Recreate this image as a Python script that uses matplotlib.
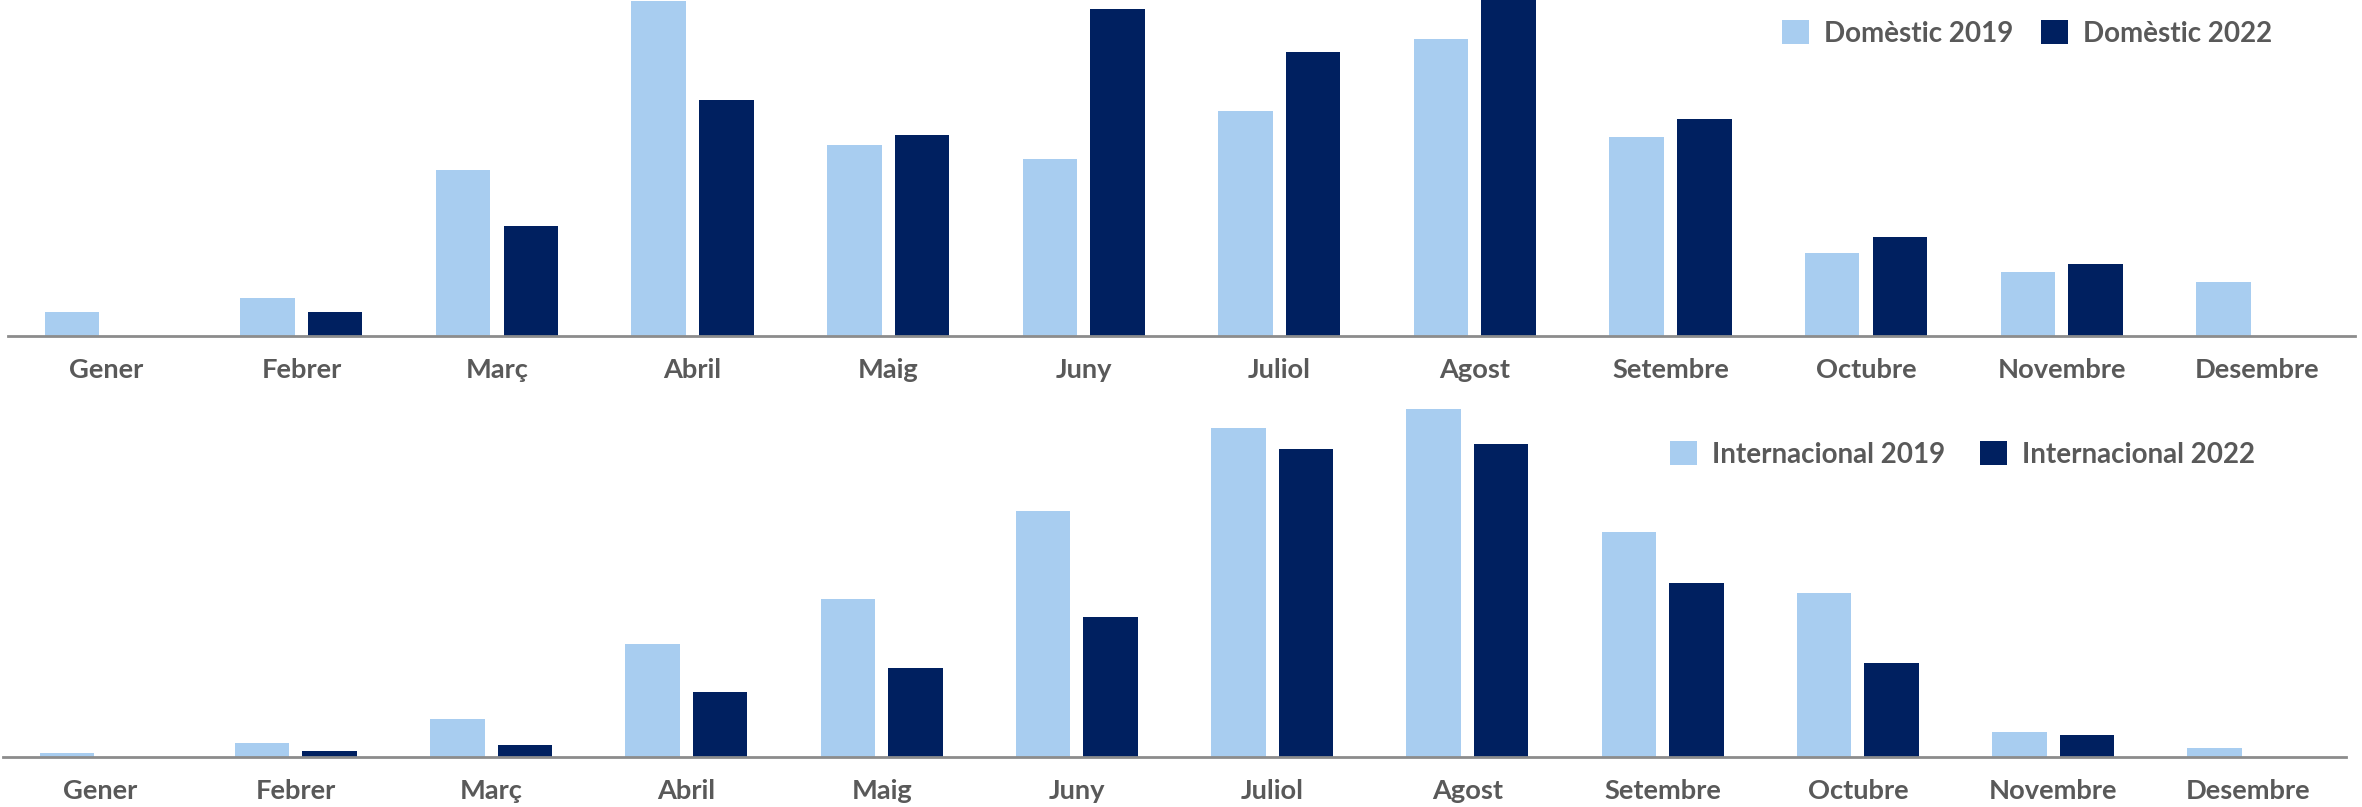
import matplotlib
matplotlib.use("Agg")
import matplotlib.pyplot as plt
from matplotlib.patches import Patch
import numpy as np

plt.rcParams['font.family'] = ['Lato', 'DejaVu Sans']

months = ["Gener", "Febrer", "Març", "Abril", "Maig", "Juny",
          "Juliol", "Agost", "Setembre", "Octubre", "Novembre", "Desembre"]

# Monthly passenger volumes (thousands)
domestic_2019 = [72, 114, 498, 1002, 570, 528, 672, 888, 594, 249, 192, 162]
domestic_2022 = [0, 72, 330, 705, 600, 978, 849, 1005, 648, 297, 216, 0]
intl_2019 = [11, 41, 113, 338, 473, 737, 986, 1043, 674, 491, 74, 26]
intl_2022 = [0, 17, 35, 194, 266, 419, 923, 938, 521, 281, 65, 0]

LIGHT = "#A8CDF0"
DARK = "#002060"
TEXT = "#595959"
AXIS = "#8C8C8C"

W, H = 2362, 807
fig = plt.figure(figsize=(W / 100, H / 100), dpi=100)


def px_axes(x0, x1, y_top, y_base):
    """Axes placed by pixel edges (y measured from the top of the figure)."""
    return fig.add_axes([x0 / W, (H - y_base) / H, (x1 - x0) / W, (y_base - y_top) / H])


def draw_panel(ax, s2019, s2022, ymax, labels):
    x = np.arange(len(months))
    width = 0.279
    off = 0.173
    ax.bar(x - off, s2019, width, color=LIGHT, label=labels[0])
    ax.bar(x + off, s2022, width, color=DARK, label=labels[1])
    ax.set_xlim(-0.5, 11.5)
    ax.set_ylim(0, ymax)
    for side in ("top", "right", "left"):
        ax.spines[side].set_visible(False)
    ax.spines["bottom"].set_color(AXIS)
    ax.spines["bottom"].set_linewidth(2.0)
    ax.set_yticks([])
    ax.set_xticks(x, months)
    ax.tick_params(axis="x", length=0, pad=16.0, labelsize=19.6, labelcolor=TEXT)
    for t in ax.get_xticklabels():
        t.set_fontweight("bold")
    ax.patch.set_alpha(0)


ax1 = px_axes(8, 2355, 0, 336)
draw_panel(ax1, domestic_2019, domestic_2022, 1005, ("Domèstic 2019", "Domèstic 2022"))

ax2 = px_axes(3, 2346, 400, 756.7)
draw_panel(ax2, intl_2019, intl_2022, 1070, ("Internacional 2019", "Internacional 2022"))


def add_legend(ax, labels, x_left, y_center, size, colspace):
    handles = [Patch(facecolor=LIGHT, edgecolor="none"), Patch(facecolor=DARK, edgecolor="none")]
    k = 17.8 / size
    leg = ax.legend(handles, labels, ncol=2, frameon=False,
                    loc="center left", bbox_to_anchor=(x_left / W, (H - y_center) / H),
                    bbox_transform=fig.transFigure, borderpad=0, borderaxespad=0,
                    handlelength=1.08 * k, handleheight=1.08 * k,
                    handletextpad=0.62 * k, columnspacing=colspace, fontsize=size)
    for t in leg.get_texts():
        t.set_color(TEXT)
        t.set_fontweight("bold")


add_legend(ax1, ["Domèstic 2019", "Domèstic 2022"], 1782, 33.5, 20.0, 1.0)
add_legend(ax2, ["Internacional 2019", "Internacional 2022"], 1670, 454.5, 20.0, 1.27)

fig.savefig("out.png", dpi=100, facecolor="white")
